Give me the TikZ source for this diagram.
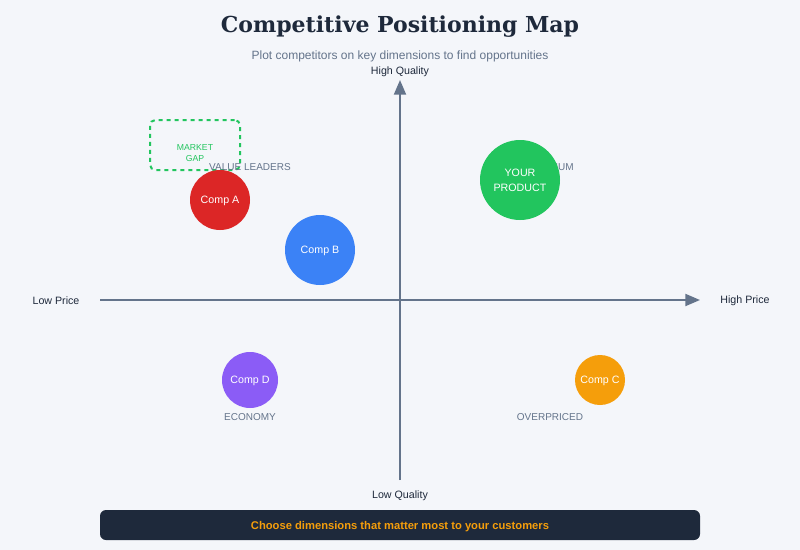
\documentclass[tikz,border=0pt]{standalone}
\usepackage{fontspec}
\setmainfont{Liberation Sans}
\newfontfamily\titlefont{DejaVu Serif}
\usetikzlibrary{arrows.meta,positioning}
\definecolor{ink}{HTML}{1E293B}
\definecolor{muted}{HTML}{64748B}
\definecolor{axis}{HTML}{64748B}
\definecolor{bgpage}{HTML}{F4F6FA}
\definecolor{green1}{HTML}{22C55E}
\definecolor{red1}{HTML}{DC2626}
\definecolor{blue1}{HTML}{3B82F6}
\definecolor{violet1}{HTML}{8B5CF6}
\definecolor{amber1}{HTML}{F59E0B}
\tikzset{
  axislabel/.style={font=\fontsize{8}{9}\selectfont,color=ink},
  quadlabel/.style={font=\fontsize{7.5}{9}\selectfont,color=muted},
  compdot/.style={circle,inner sep=0pt,text=white,text depth=0pt,
                  font=\fontsize{8}{11}\selectfont,align=center}
}
\begin{document}
\begin{tikzpicture}[x=0.75pt,y=-0.75pt]
  % page
  \fill[bgpage] (0,0) rectangle (800,550);
  \useasboundingbox (0,0) rectangle (800,550);
  % heading
  \node (title) at (400,27) {\titlefont\bfseries\fontsize{16.5}{18}\selectfont\color{ink}Competitive Positioning Map};
  \node[font=\fontsize{9}{10}\selectfont,color=muted] (subtitle) at (400,56)
       {Plot competitors on key dimensions to find opportunities};
  % axes
  \coordinate (ytop) at (400,80);
  \coordinate (ybot) at (400,480);
  \coordinate (xleft) at (100,300);
  \coordinate (xright) at (700,300);
  \draw[axis,line width=1.5pt,-{Triangle[length=11pt,width=9pt]}] (ybot) -- (ytop);
  \draw[axis,line width=1.5pt,-{Triangle[length=11pt,width=9pt]}] (xleft) -- (xright);
  \node[axislabel] (hiq) at (400,72) {High Quality};
  \node[axislabel] (loq) at (400,496) {Low Quality};
  \node[axislabel] (lop) at (56,301) {Low Price};
  \node[axislabel] (hip) at (745,301) {High Price};
  % market gap
  \node[draw=green1,dashed,line width=1.5pt,rounded corners=4pt,
        minimum width=67.5pt,minimum height=37.5pt] (gap) at (195,145) {};
  \node[font=\fontsize{6.5}{8.5}\selectfont,color=green1,align=center] (gaptxt) at (195,153)
       {MARKET\\GAP};
  % quadrants (premium sits under our own dot)
  \node[quadlabel] (qvalue) at (250,167) {VALUE LEADERS};
  \node[quadlabel] (qprem) at (550,167) {PREMIUM};
  \node[quadlabel] (qecon) at (250,417) {ECONOMY};
  \node[quadlabel] (qover) at (550,417) {OVERPRICED};
  % players
  \node[compdot,fill=red1,minimum size=45pt] (compA) at (220,200) {Comp A};
  \node[compdot,fill=blue1,minimum size=52.5pt] (compB) at (320,250) {Comp B};
  \node[compdot,fill=green1,minimum size=60pt] (ours) at (520,180) {YOUR\\PRODUCT};
  \node[compdot,fill=violet1,minimum size=42pt] (compD) at (250,380) {Comp D};
  \node[compdot,fill=amber1,minimum size=37.5pt] (compC) at (600,380) {Comp C};
  % footer
  \node[fill=ink,rounded corners=4.5pt,minimum width=450pt,minimum height=22.5pt,
        text=amber1,text depth=0pt,font=\bfseries\fontsize{8.4}{9}\selectfont] (tip) at (400,525)
       {Choose dimensions that matter most to your customers};
\end{tikzpicture}
\end{document}
